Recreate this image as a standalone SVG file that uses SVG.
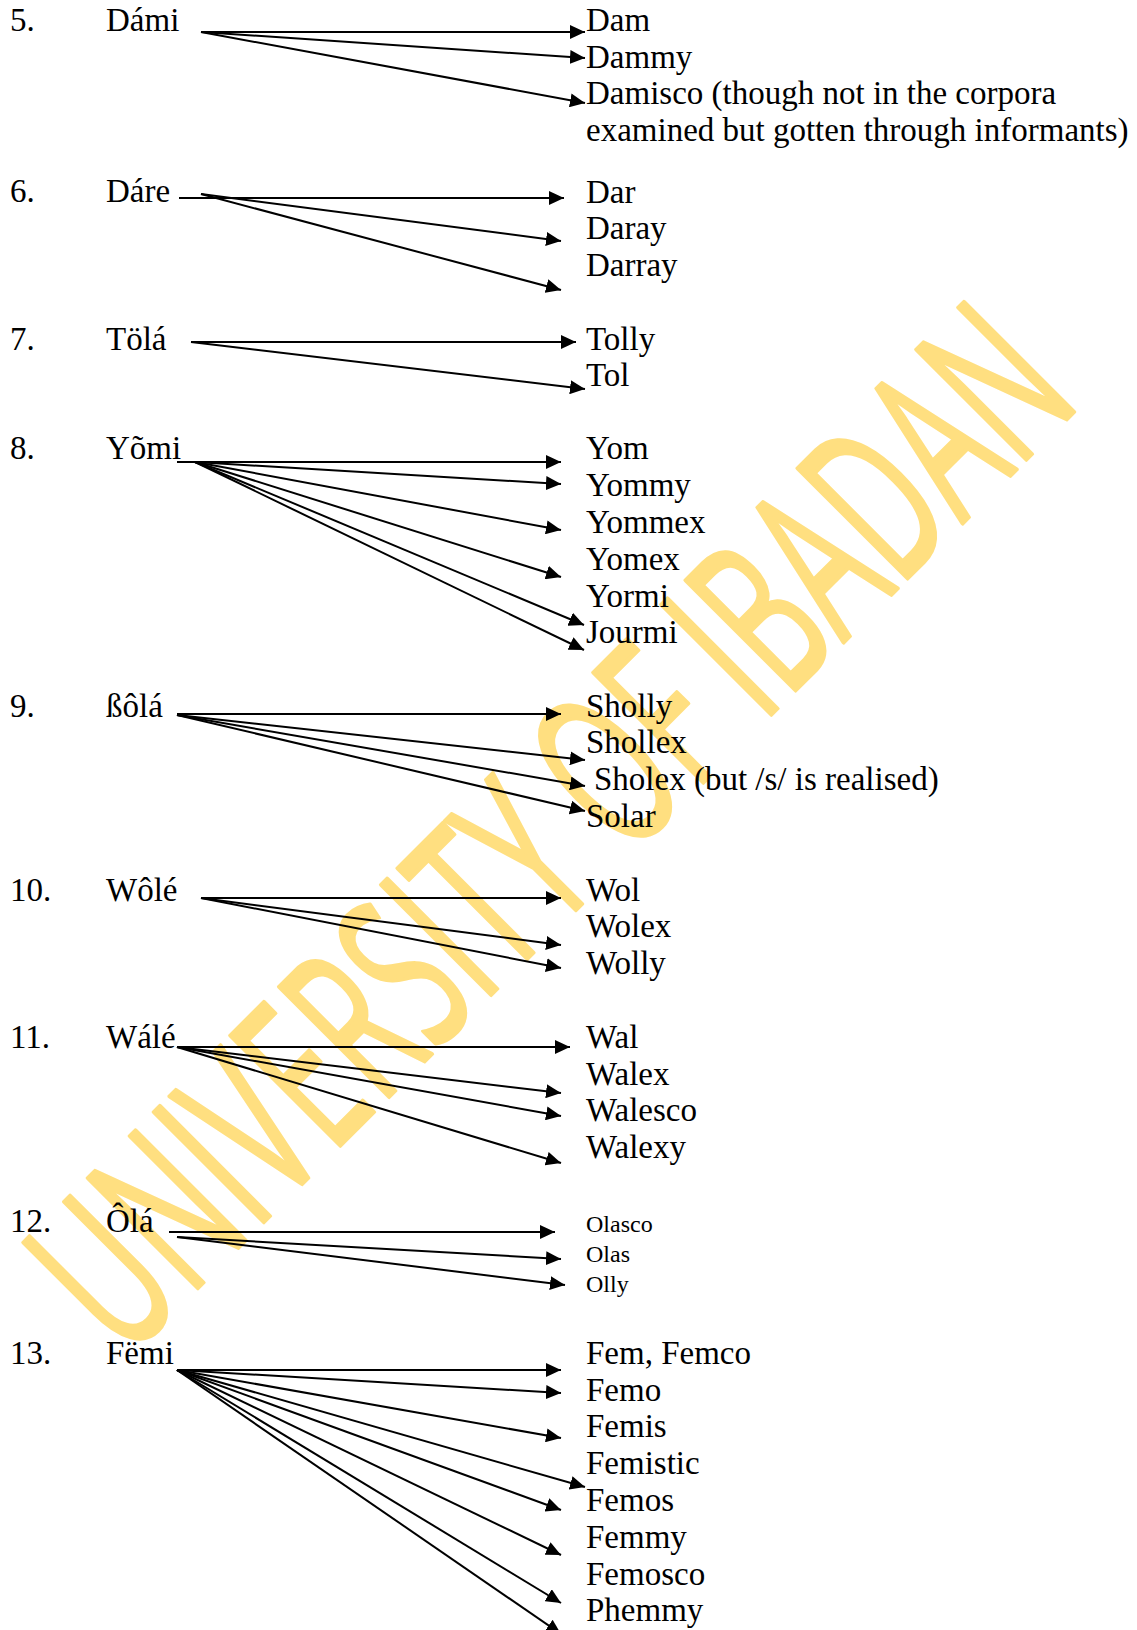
<svg xmlns="http://www.w3.org/2000/svg" width="1137" height="1630" viewBox="0 0 1137 1630">
<style>
  .t { font-family: "Liberation Serif", "Times New Roman", serif; font-size: 33px; fill: #000; }
  .s { font-family: "Liberation Serif", "Times New Roman", serif; font-size: 24px; fill: #000; }
  .wm { font-family: "Open Sans", "Liberation Sans", sans-serif; font-size: 218px; fill: #FFDF80; stroke: #FFDF80; stroke-width: 4; stroke-linejoin: round; stroke-linecap: round; }
  .c line { stroke: #000; stroke-width: 2; marker-end: url(#ah); }
</style>
<defs>
  <marker id="ah" markerUnits="userSpaceOnUse" markerWidth="16" markerHeight="14" refX="15" refY="7" orient="auto">
    <path d="M0,0 L15,7 L0,14 z" fill="#000"/>
  </marker>
</defs>
<rect width="1137" height="1630" fill="#fff"/>
<g id="watermark">
  <text class="wm" x="125" y="1361" textLength="1355" lengthAdjust="spacingAndGlyphs" transform="rotate(-45 125 1361)">UNIVERSITY OF IBADAN</text>
</g>
<g id="sources">
  <g id="n5"><text class="t" x="10" y="31">5.</text><text class="t" x="106" y="31">Dámi</text></g>
  <g id="n6"><text class="t" x="10" y="202">6.</text><text class="t" x="106" y="202">Dáre</text></g>
  <g id="n7"><text class="t" x="10" y="350">7.</text><text class="t" x="106" y="350">Tölá</text></g>
  <g id="n8"><text class="t" x="10" y="459">8.</text><text class="t" x="106" y="459">Yõmi</text></g>
  <g id="n9"><text class="t" x="10" y="717">9.</text><text class="t" x="106" y="717">ßôlá</text></g>
  <g id="n10"><text class="t" x="10" y="901">10.</text><text class="t" x="106" y="901">Wôlé</text></g>
  <g id="n11"><text class="t" x="10" y="1048">11.</text><text class="t" x="106" y="1048">Wálé</text></g>
  <g id="n12"><text class="t" x="10" y="1232">12.</text><text class="t" x="106" y="1232">Ôlá</text></g>
  <g id="n13"><text class="t" x="10" y="1364">13.</text><text class="t" x="106" y="1364">Fëmi</text></g>
</g>
<g id="targets">
  <g id="t5">
    <text class="t" x="586" y="31">Dam</text>
    <text class="t" x="586" y="68">Dammy</text>
    <text class="t" x="586" y="104">Damisco (though not in the corpora</text>
    <text class="t" x="586" y="141">examined but gotten through informants)</text>
  </g>
  <g id="t6">
    <text class="t" x="586" y="203">Dar</text>
    <text class="t" x="586" y="239">Daray</text>
    <text class="t" x="586" y="276">Darray</text>
  </g>
  <g id="t7">
    <text class="t" x="586" y="350">Tolly</text>
    <text class="t" x="586" y="386">Tol</text>
  </g>
  <g id="t8">
    <text class="t" x="586" y="459">Yom</text>
    <text class="t" x="586" y="496">Yommy</text>
    <text class="t" x="586" y="533">Yommex</text>
    <text class="t" x="586" y="570">Yomex</text>
    <text class="t" x="586" y="607">Yormi</text>
    <text class="t" x="586" y="643">Jourmi</text>
  </g>
  <g id="t9">
    <text class="t" x="586" y="717">Sholly</text>
    <text class="t" x="586" y="753">Shollex</text>
    <text class="t" x="594" y="790">Sholex (but /s/ is realised)</text>
    <text class="t" x="586" y="827">Solar</text>
  </g>
  <g id="t10">
    <text class="t" x="586" y="901">Wol</text>
    <text class="t" x="586" y="937">Wolex</text>
    <text class="t" x="586" y="974">Wolly</text>
  </g>
  <g id="t11">
    <text class="t" x="586" y="1048">Wal</text>
    <text class="t" x="586" y="1085">Walex</text>
    <text class="t" x="586" y="1121">Walesco</text>
    <text class="t" x="586" y="1158">Walexy</text>
  </g>
  <g id="t12">
    <text class="s" x="586" y="1232">Olasco</text>
    <text class="s" x="586" y="1262">Olas</text>
    <text class="s" x="586" y="1292">Olly</text>
  </g>
  <g id="t13">
    <text class="t" x="586" y="1364">Fem, Femco</text>
    <text class="t" x="586" y="1401">Femo</text>
    <text class="t" x="586" y="1437">Femis</text>
    <text class="t" x="586" y="1474">Femistic</text>
    <text class="t" x="586" y="1511">Femos</text>
    <text class="t" x="586" y="1548">Femmy</text>
    <text class="t" x="586" y="1585">Femosco</text>
    <text class="t" x="586" y="1621">Phemmy</text>
  </g>
</g>
<g id="connectors" class="c">
  <line x1="201" y1="32" x2="585" y2="32"/>
  <line x1="201" y1="32" x2="585" y2="58"/>
  <line x1="201" y1="32" x2="585" y2="103"/>

  <line x1="179" y1="198" x2="564" y2="198"/>
  <line x1="201" y1="194" x2="561" y2="241"/>
  <line x1="201" y1="194" x2="561" y2="290"/>

  <line x1="191" y1="342" x2="576" y2="342"/>
  <line x1="191" y1="342" x2="585" y2="389"/>

  <line x1="177" y1="462" x2="561" y2="462"/>
  <line x1="195" y1="462" x2="561" y2="484"/>
  <line x1="195" y1="462" x2="561" y2="530"/>
  <line x1="195" y1="462" x2="561" y2="577"/>
  <line x1="195" y1="462" x2="584" y2="625"/>
  <line x1="195" y1="462" x2="584" y2="650"/>

  <line x1="177" y1="714" x2="561" y2="714"/>
  <line x1="177" y1="715" x2="585" y2="760"/>
  <line x1="177" y1="715" x2="585" y2="786"/>
  <line x1="177" y1="715" x2="585" y2="811"/>

  <line x1="201" y1="898" x2="561" y2="898"/>
  <line x1="201" y1="898" x2="561" y2="945"/>
  <line x1="201" y1="898" x2="561" y2="968"/>

  <line x1="177" y1="1047" x2="570" y2="1047"/>
  <line x1="177" y1="1047" x2="561" y2="1093"/>
  <line x1="177" y1="1047" x2="561" y2="1116"/>
  <line x1="177" y1="1047" x2="561" y2="1163"/>

  <line x1="169" y1="1232" x2="555" y2="1232"/>
  <line x1="177" y1="1237" x2="561" y2="1259"/>
  <line x1="177" y1="1237" x2="565" y2="1285"/>

  <line x1="177" y1="1370" x2="561" y2="1370"/>
  <line x1="177" y1="1370" x2="561" y2="1393"/>
  <line x1="177" y1="1370" x2="561" y2="1438"/>
  <line x1="177" y1="1370" x2="585" y2="1487"/>
  <line x1="177" y1="1370" x2="561" y2="1510"/>
  <line x1="177" y1="1370" x2="561" y2="1555"/>
  <line x1="177" y1="1370" x2="561" y2="1603"/>
  <line x1="177" y1="1370" x2="561" y2="1634"/>
</g>
</svg>
